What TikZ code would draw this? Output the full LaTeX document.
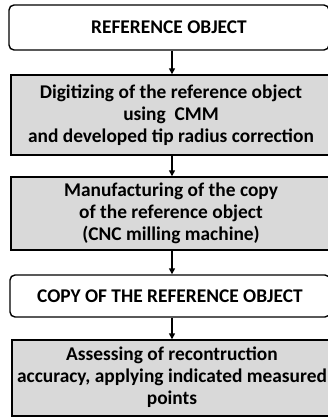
\documentclass[tikz,border=0pt]{standalone}
\usepackage{fontspec}
\setmainfont{Carlito}
\usetikzlibrary{arrows.meta}
\definecolor{boxgray}{RGB}{217,217,217}
\begin{document}
\begin{tikzpicture}[x=1pt,y=-1pt,
  base/.style={draw=black, line width=1.4pt, align=center, inner sep=0pt,
    minimum width=320pt, font=\bfseries\fontsize{19.4}{21.8}\selectfont, text=black},
  whitebox/.style={base, fill=white, rounded corners=5pt},
  graybox/.style={base, fill=boxgray},
  conn/.style={line width=1.4pt, -{Triangle[length=6pt,width=6pt]}}]
\useasboundingbox (0,0) rectangle (327,417);
\node[whitebox, minimum height=45pt] (b1) at (169,27.5) {REFERENCE OBJECT};
\node[graybox, minimum height=80pt] (b2) at (171,115) {Digitizing of the reference object\\using\ \ CMM\\and developed tip radius correction};
\node[graybox, minimum height=73pt] (b3) at (171,213.5) {Manufacturing of the copy\\of the reference object\\(CNC milling machine)};
\node[whitebox, minimum height=42pt] (b4) at (170,296) {COPY OF THE REFERENCE OBJECT};
\node[graybox, minimum height=76pt, text depth=5pt] (b5) at (172,378) {Assessing of recontruction\\accuracy, applying indicated measured\\points};
\draw[conn] ([xshift=3pt]b1.south) -- ([xshift=1pt]b2.north);
\draw[conn] ([xshift=1pt]b2.south) -- ([xshift=1pt]b3.north);
\draw[conn] ([xshift=1pt]b3.south) -- ([xshift=2pt]b4.north);
\draw[conn] ([xshift=2pt]b4.south) -- ([xshift=0pt]b5.north);
\end{tikzpicture}
\end{document}
